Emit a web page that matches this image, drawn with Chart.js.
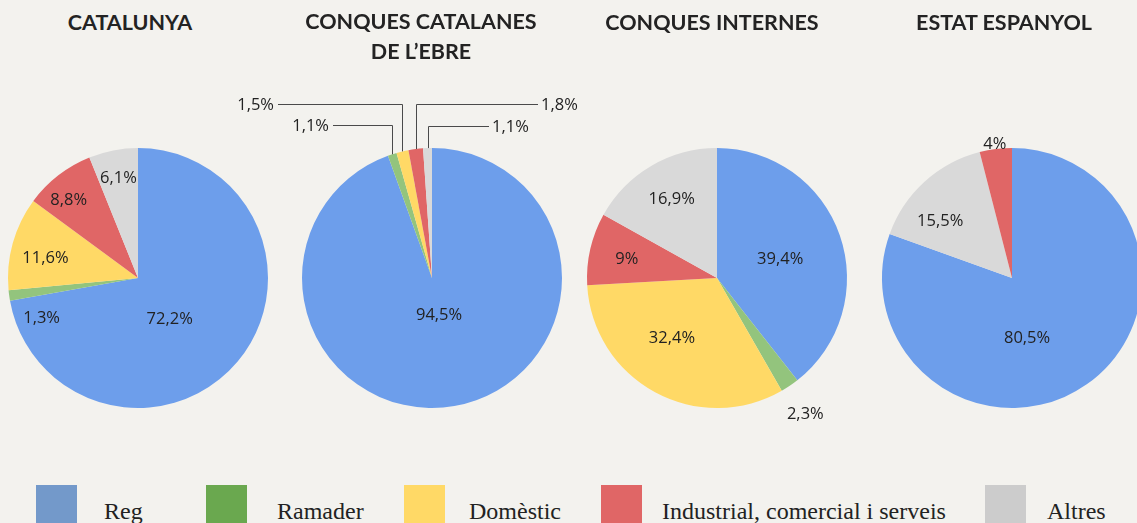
<!DOCTYPE html>
<html>
<head>
<meta charset="utf-8">
<script src="https://cdn.jsdelivr.net/npm/chart.js@4.4.1/dist/chart.umd.min.js"></script>
<style>
  html, body { margin: 0; padding: 0; }
  body { width: 1137px; height: 523px; overflow: hidden; background: #f3f2ee; position: relative; }
  canvas { position: absolute; }
  .title { position: absolute; width: 400px; text-align: center; font-family: Lato, sans-serif; font-weight: 700; font-size: 21.5px; line-height: 30px; color: #232323; }
  .sw { position: absolute; width: 41px; height: 41px; top: 485px; }
  .lt { position: absolute; top: 499px; font-family: "Liberation Serif", serif; font-size: 24px; line-height: 24px; color: #222; white-space: nowrap; }
</style>
</head>
<body>
<script>
// ---- Data ----
const categories = ['Reg', 'Ramader', 'Domèstic', 'Industrial, comercial i serveis', 'Altres'];
const chartTitles = ['CATALUNYA', 'CONQUES CATALANES<br>DE L’EBRE', 'CONQUES INTERNES', 'ESTAT ESPANYOL'];
const catalunya = [72.2, 1.3, 11.6, 8.8, 6.1];
const conquesEbre = [94.5, 1.1, 1.5, 1.8, 1.1];
const conquesInternes = [39.4, 2.3, 32.4, 9, 16.9];
const estatEspanyol = [80.5, 0, 0, 4, 15.5];

// ---- Styles ----
const sliceColors = ['#6d9eeb', '#93c47d', '#ffd966', '#e06666', '#d9d9d9'];
const legendColors = ['#7399ca', '#6aa84f', '#ffd966', '#e06666', '#cccccc'];

const charts = [
  { values: catalunya, order: [0,1,2,3,4], cx: 138, titleX: 130, titleTop: 7,
    place: [{f:0.39, da:11.3}, {f:0.8, da:-14.3}, {f:0.73, da:-2.7}, {f:0.81, da:-3.4}, {f:0.79, da:0}] },
  { values: conquesEbre, order: [0,1,2,3,4], cx: 432, titleX: 421, titleTop: 6,
    place: [{f:0.28, da:-1.3},
            {leader:{dy:-153, dx:-99}}, {leader:{dy:-174, dx:-154}},
            {leader:{dy:-174, dx:106}}, {leader:{dy:-152, dx:57}}] },
  { values: conquesInternes, order: [0,1,2,3,4], cx: 717, titleX: 712, titleTop: 7,
    place: [{f:0.51, da:1.5}, {f:1.24, da:0.8}, {f:0.57, da:9}, {f:0.71, da:-0.5}, {f:0.71, da:1}] },
  { values: estatEspanyol, order: [0,1,2,4,3], cx: 1012, titleX: 1004, titleTop: 7,
    place: [{f:0.47, da:20.8}, null, null, {f:1.05, da:0}, {f:0.71, da:-8.8}] }
];
const CY = 278, R = 130, CW = 400, CH = 400, CTOP = 60;

function fmt(v) { return String(v).replace('.', ',') + '%'; }

const sliceLabels = {
  id: 'sliceLabels',
  afterDatasetsDraw(chart) {
    const cfg = chart.options.plugins.sliceLabels;
    const ctx = chart.ctx;
    const meta = chart.getDatasetMeta(0);
    meta.data.forEach((arc, k) => {
      const v = chart.data.datasets[0].data[k];
      if (!v) return;
      const cat = cfg.order[k];
      const p = cfg.place[cat];
      if (!p) return;
      const { x, y, startAngle, endAngle, outerRadius } = arc.getProps(['x','y','startAngle','endAngle','outerRadius'], true);
      const mid = (startAngle + endAngle) / 2;
      const text = fmt(v);
      ctx.save();
      ctx.font = '16.5px "Open Sans"';
      ctx.fillStyle = '#222';
      if (p.leader) {
        const ax = Math.round(x + outerRadius * Math.cos(mid)) + 0.5;
        const ay = y + outerRadius * Math.sin(mid);
        const ly = Math.round(y + p.leader.dy) + 0.5;
        const ex = x + p.leader.dx;
        ctx.strokeStyle = '#4a4a4a';
        ctx.lineWidth = 1;
        ctx.beginPath();
        ctx.moveTo(ax, ay);
        ctx.lineTo(ax, ly);
        ctx.lineTo(ex, ly);
        ctx.stroke();
        ctx.textBaseline = 'middle';
        const left = ex < ax;
        ctx.textAlign = left ? 'right' : 'left';
        ctx.fillText(text, ex + (left ? -4 : 3), ly + 1);
      } else {
        const a = mid + p.da * Math.PI / 180;
        const d = outerRadius * p.f;
        ctx.textAlign = 'center';
        ctx.textBaseline = 'middle';
        ctx.fillText(text, x + d * Math.cos(a), y + d * Math.sin(a) + 1.5);
      }
      ctx.restore();
    });
  }
};

charts.forEach((c, i) => {
  const t = document.createElement('div');
  t.className = 'title';
  t.innerHTML = chartTitles[i];
  t.style.left = (c.titleX - 200) + 'px';
  t.style.top = c.titleTop + 'px';
  document.body.appendChild(t);

  const cv = document.createElement('canvas');
  cv.width = CW; cv.height = CH;
  cv.style.left = (c.cx - CW / 2) + 'px';
  cv.style.top = CTOP + 'px';
  document.body.appendChild(cv);

  const padTop = CY - R - CTOP;
  new Chart(cv, {
    type: 'pie',
    data: {
      labels: c.order.map(j => categories[j]),
      datasets: [{
        data: c.order.map(j => c.values[j]),
        backgroundColor: c.order.map(j => sliceColors[j]),
        borderWidth: 0
      }]
    },
    options: {
      responsive: false,
      animation: false,
      layout: { padding: { left: CW / 2 - R, right: CW / 2 - R, top: padTop, bottom: CH - padTop - 2 * R } },
      plugins: {
        legend: { display: false },
        tooltip: { enabled: false },
        sliceLabels: { order: c.order, place: c.place }
      }
    },
    plugins: [sliceLabels]
  });
});

// ---- Legend ----
const legendSwatchX = [36, 206, 404, 601, 985];
const legendTextX = [104, 277, 469, 662, 1047];
categories.forEach((name, i) => {
  const s = document.createElement('div');
  s.className = 'sw';
  s.style.left = legendSwatchX[i] + 'px';
  s.style.background = legendColors[i];
  document.body.appendChild(s);
  const l = document.createElement('div');
  l.className = 'lt';
  l.style.left = legendTextX[i] + 'px';
  l.textContent = name;
  document.body.appendChild(l);
});
</script>
</body>
</html>
